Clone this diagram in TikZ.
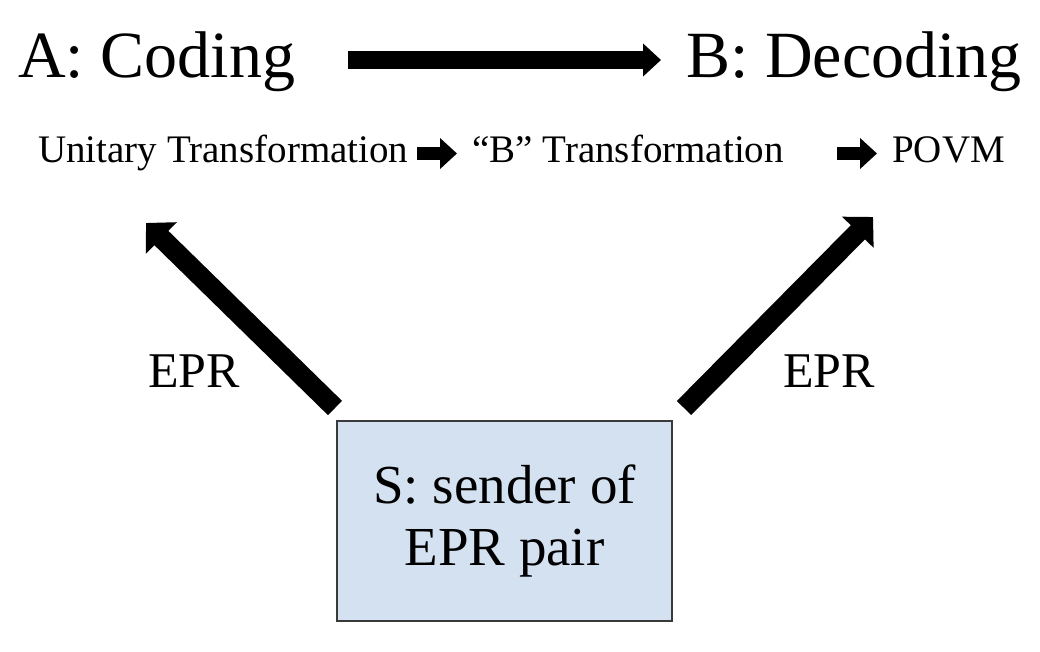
\documentclass[tikz,border=0pt]{standalone}
\usepackage{fontspec}
\setmainfont{Liberation Serif}
\usetikzlibrary{arrows.meta}
\definecolor{boxfill}{HTML}{D4E1F0}
\definecolor{boxline}{HTML}{3A3A3A}
\begin{document}
\begin{tikzpicture}[x=1pt,y=-1pt,
  lbl/.style={inner sep=0pt, anchor=base west},
  bigtitle/.style={lbl, font=\fontsize{66}{66}\selectfont},
  subtitle/.style={lbl, font=\fontsize{39}{39}\selectfont},
  eprlabel/.style={lbl, font=\fontsize{50}{50}\selectfont},
  sendbox/.style={draw=boxline, fill=boxfill, line width=1.5pt, minimum width=335pt, minimum height=200pt, align=center, font=\fontsize{55}{62}\selectfont, inner sep=0pt},
  toparrow/.style={line width=18pt, -{Triangle[length=18pt,width=32pt]}},
  diagarrow/.style={line width=20pt, -{Triangle[length=21.5pt,width=43pt]}},
  smallarrow/.style={line width=13pt, -{Triangle[length=17pt,width=30pt]}}
]
\useasboundingbox (0,0) rectangle (1040,652);
\node[bigtitle] (A) at (18,78) {A: Coding};
\node[bigtitle] (B) at (686,78) {B: Decoding};
\node[subtitle] (U) at (38,163) {Unitary Transformation};
\node[subtitle] (BT) at (472,163) {“B” Transformation};
\node[subtitle] (P) at (892,163) {POVM};
\node[eprlabel] (E1) at (148,387) {EPR};
\node[eprlabel] (E2) at (783,387) {EPR};
\node[sendbox] (S) at (504.5,521) {S: sender of\\EPR pair};
\coordinate (t1) at (348,60);
\coordinate (t2) at (661,60);
\coordinate (u1) at (417,153.5);
\coordinate (u2) at (457,153.5);
\coordinate (p1) at (837,153.5);
\coordinate (p2) at (877,153.5);
\coordinate (l1) at (335,408);
\coordinate (l2) at (146,223);
\coordinate (r1) at (684,408);
\coordinate (r2) at (873,217);
\draw[toparrow] (t1) -- (t2);
\draw[smallarrow] (u1) -- (u2);
\draw[smallarrow] (p1) -- (p2);
\draw[diagarrow] (l1) -- (l2);
\draw[diagarrow] (r1) -- (r2);
\end{tikzpicture}
\end{document}
